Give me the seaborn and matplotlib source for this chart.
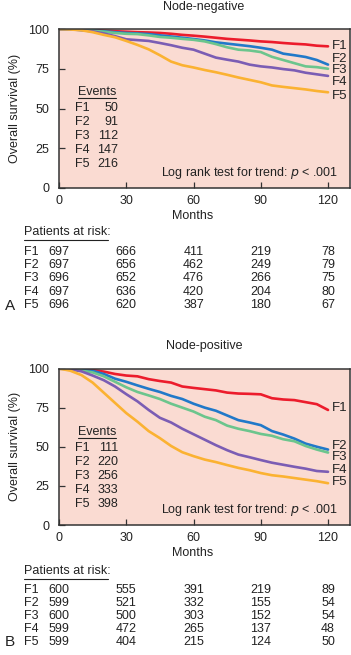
import matplotlib
matplotlib.use("Agg")
import matplotlib.pyplot as plt
import matplotlib.transforms as mtransforms
from matplotlib.lines import Line2D
import seaborn as sns
import pandas as pd

# ---- data ----
groups = ["F1", "F2", "F3", "F4", "F5"]
months = [0, 5, 10, 15, 20, 25, 30, 35, 40, 45, 50, 55, 60,
          65, 70, 75, 80, 85, 90, 95, 100, 105, 110, 115, 120]

neg_f1 = [100, 100, 99.7, 99.4, 99, 98.6, 98.3, 98, 97.8, 97.5, 97, 96.3, 95.8,
          95.2, 94.5, 93.8, 93.3, 92.8, 92.2, 91.8, 91.2, 90.7, 90.3, 89.5, 89.1]
neg_f2 = [100, 99.8, 99.5, 99.2, 98.6, 98, 97.5, 97.2, 96.8, 96, 95.3, 94.5, 93.7,
          92.8, 91.6, 90.8, 90, 89.2, 88.2, 87, 84.5, 83.5, 82.4, 80.5, 77.6]
neg_f3 = [100, 99.8, 99.4, 99, 98.3, 97.5, 97, 96.8, 96, 95, 94.5, 93.8, 93.2,
          92.2, 90.5, 88.5, 87, 86.5, 85.5, 82.5, 80.5, 78.5, 76.5, 76, 75]
neg_f4 = [100, 99.8, 99.3, 98.5, 97.2, 95.5, 93.5, 93, 92.5, 91.2, 89.8, 88.2, 87,
          84.5, 82, 80.7, 79.5, 77.6, 76.5, 75.8, 74.8, 74, 72.5, 71.5, 70.5]
neg_f5 = [100, 99.7, 99.2, 98, 96.3, 94.8, 92.5, 90, 87.2, 83.5, 79.5, 77.2, 75.8,
          74.2, 72.8, 71.2, 69.5, 68, 66.5, 64.5, 63.6, 62.8, 62, 61, 60.2]

pos_f1 = [100, 99.8, 99.3, 99, 98, 96.5, 95.5, 95, 93.2, 92, 91, 88.5, 87.6,
          86.8, 86, 84.6, 84, 83.8, 83.5, 81, 80.2, 79.8, 78.5, 77.2, 73.5]
pos_f2 = [100, 99.8, 99, 98.5, 96.5, 93.5, 91.5, 89.2, 87, 85, 82.5, 80.5, 77.5,
          75, 73, 70, 67, 65.5, 63.8, 60, 57.8, 55.2, 52, 50, 48.2]
pos_f3 = [100, 99.6, 98.6, 97.5, 95, 91.5, 88, 85, 82.8, 80.5, 77.5, 75, 72.5,
          69.2, 67, 63.5, 61.5, 60, 58.2, 57, 54.8, 53.5, 50.5, 48.2, 46.3]
pos_f4 = [100, 99.5, 98.2, 95.5, 92.5, 88.5, 83.6, 79, 73.5, 68.5, 65.5, 61.5, 58,
          54.5, 51, 47.8, 45, 43.3, 41.5, 39.8, 38.5, 37.2, 36, 34.5, 34]
pos_f5 = [100, 98.6, 95.8, 91, 84.5, 78, 71.5, 66, 60, 55.5, 50.5, 46.5, 44,
          41.8, 40.2, 38.3, 36.5, 35, 33.2, 31.8, 31, 30, 29, 28, 26.7]

neg_events = [50, 91, 112, 147, 216]
pos_events = [111, 220, 256, 333, 398]

risk_months = [0, 30, 60, 90, 120]
neg_risk = [[697, 666, 411, 219, 78],
            [697, 656, 462, 249, 79],
            [696, 652, 476, 266, 75],
            [697, 636, 420, 204, 80],
            [696, 620, 387, 180, 67]]
pos_risk = [[600, 555, 391, 219, 89],
            [599, 521, 332, 155, 54],
            [600, 500, 303, 152, 54],
            [599, 472, 265, 137, 48],
            [599, 404, 215, 124, 50]]

# label heights at the right end of curves (survival %)
neg_label_y = [89.5, 81.1, 74.2, 66.9, 58.0]
pos_label_y = [74.8, 50.6, 43.4, 35.3, 27.4]

palette = {"F1": "#ec1c2c", "F2": "#2179c9", "F3": "#6cc58d",
           "F4": "#7b5db4", "F5": "#fbb232"}

sns.set_style("ticks")
plt.rcParams["font.family"] = ["Liberation Sans", "DejaVu Sans"]
plt.rcParams["font.size"] = 9
txt_color = "#222222"
spine_color = "#333333"

W, H = 351, 655
fig = plt.figure(figsize=(W / 100, H / 100), dpi=100)


def fx(x):
    return x / W


def fy(y):
    return 1 - y / H


def panel(top, bottom, series, events, risk, label_y, title, letter,
          risk_head_y, risk_rows_y, events_y):
    ax = fig.add_axes([fx(59), fy(bottom), fx(350) - fx(59), (bottom - top) / H])
    df = pd.DataFrame({
        "month": months * len(groups),
        "survival": sum(series, []),
        "group": [g for g in groups for _ in months],
    })
    sns.lineplot(data=df, x="month", y="survival", hue="group", palette=palette,
                 estimator=None, linewidth=1.9, legend=False, ax=ax)
    ax.set_facecolor("#fadbd2")
    ax.set_xlim(0, 129.8)
    ax.set_ylim(0, 100)
    ax.set_xticks([0, 30, 60, 90, 120])
    ax.set_yticks([0, 25, 50, 75, 100])
    ax.set_xlabel("")
    ax.set_ylabel("")
    ax.tick_params(direction="in", length=4, width=0.9, color=spine_color,
                   labelsize=9, labelcolor=txt_color)
    ax.tick_params(axis="y", pad=7)
    ax.tick_params(axis="x", pad=5)
    for s in ax.spines.values():
        s.set_visible(True)
        s.set_color(spine_color)
        s.set_linewidth(1.1)

    # curve end labels
    for g, yv in zip(groups, label_y):
        ax.text(121.6, yv, g, ha="left", va="center", fontsize=9.5,
                color=txt_color, clip_on=False)

    # events table
    fig.text(fx(97), fy(events_y), "Events", ha="center", va="center",
             color=txt_color)
    fig.add_artist(Line2D([fx(78), fx(116)], [fy(events_y + 6)] * 2,
                          transform=fig.transFigure, color=txt_color, lw=0.8))
    for i, (g, n) in enumerate(zip(groups, events)):
        yy = events_y + 16 + i * 14.1
        fig.text(fx(75), fy(yy), g, ha="left", va="center", color=txt_color)
        fig.text(fx(118), fy(yy), str(n), ha="right", va="center",
                 color=txt_color)

    ax.text(0.96, 0.095, "Log rank test for trend: $\\it{p}$ < .001",
            transform=ax.transAxes, ha="right", va="center", color=txt_color)

    fig.text(fx(204), fy(top - 22), title, ha="center", va="center",
             color=txt_color)
    fig.text(fx(15), fy((top + bottom) / 2), "Overall survival (%)",
             rotation=90, ha="center", va="center", color=txt_color)
    fig.text(fx(193), fy(bottom + 28), "Months", ha="center", va="center",
             color=txt_color)

    # patients at risk
    fig.text(fx(24), fy(risk_head_y), "Patients at risk:", ha="left",
             va="center", color=txt_color)
    fig.add_artist(Line2D([fx(24), fx(108)], [fy(risk_head_y + 7.5)] * 2,
                          transform=fig.transFigure, color=txt_color, lw=0.8))
    blend = mtransforms.blended_transform_factory(ax.transData, fig.transFigure)
    for i, g in enumerate(groups):
        yy = risk_rows_y[i]
        fig.text(fx(24), fy(yy), g, ha="left", va="center", color=txt_color)
        for m, n in zip(risk_months, risk[i]):
            ax.text(m, fy(yy), str(n), transform=blend, ha="center",
                    va="center", color=txt_color, clip_on=False)
    fig.text(fx(10), fy(risk_rows_y[-1]), letter, ha="center", va="center",
             fontsize=11, color=txt_color)
    return ax


panel(29, 188, [neg_f1, neg_f2, neg_f3, neg_f4, neg_f5], neg_events, neg_risk,
      neg_label_y, "Node-negative", "A", 232,
      [251.5, 265, 278.5, 292, 305.5], 92)
panel(368.5, 525, [pos_f1, pos_f2, pos_f3, pos_f4, pos_f5], pos_events,
      pos_risk, pos_label_y, "Node-positive", "B", 571,
      [590, 603, 616, 629, 642], 432)

fig.savefig("out.png", dpi=100, facecolor="white")
